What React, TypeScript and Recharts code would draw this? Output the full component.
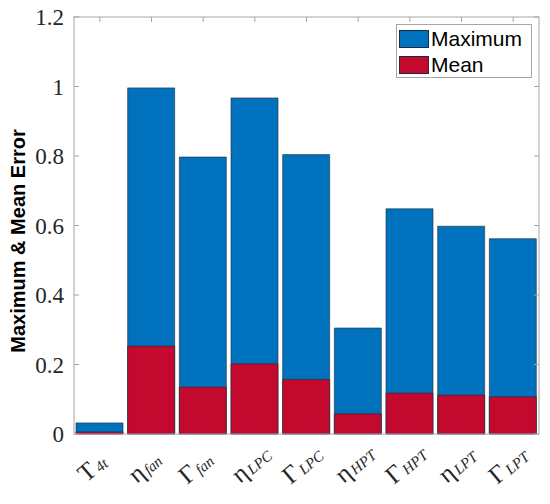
import React from 'react';
import { BarChart, Bar, XAxis, YAxis, LabelList } from 'recharts';

// ─── data ─────────────────────────────────────────────────────────────────────

const SYMBOLS = ['T', 'η', 'Γ', 'η', 'Γ', 'η', 'Γ', 'η', 'Γ'];
const SUBSCRIPTS = ['4t', 'fan', 'fan', 'LPC', 'LPC', 'HPT', 'HPT', 'LPT', 'LPT'];
const MAXIMUM = [0.032, 0.996, 0.797, 0.967, 0.804, 0.305, 0.648, 0.598, 0.562];
const MEAN = [0.006, 0.253, 0.135, 0.202, 0.157, 0.058, 0.118, 0.112, 0.107];
const Y_TICKS = [0, 0.2, 0.4, 0.6, 0.8, 1, 1.2];

const data = SYMBOLS.map((s, i) => ({ name: s + SUBSCRIPTS[i], maximum: MAXIMUM[i], mean: MEAN[i] }));

// ─── layout / style ───────────────────────────────────────────────────────────

const W = 550;
const H = 504;
const MARGIN = { top: 17, right: 11, bottom: 0, left: 0 };
const Y_AXIS_W = 74;
const X_AXIS_H = 70;
const PLOT_W = W - MARGIN.left - MARGIN.right - Y_AXIS_W;
const PLOT_H = H - MARGIN.top - MARGIN.bottom - X_AXIS_H;

const BLUE = '#0072BD';
const RED = '#C4092E';
const EDGE = '#1c2c3c';
const AXIS = '#a6a6a6';
const TICK_TEXT = '#262626';
const SERIF = 'Liberation Serif';
const SANS = 'Liberation Sans';

// ─── ticks ────────────────────────────────────────────────────────────────────

// left label + inward ticks on both sides
function LeftTick(props: any) {
  const { x, y, payload } = props;
  return (
    <g>
      <line x1={x} x2={x + 5} y1={y} y2={y} stroke={AXIS} />
      <line x1={x + PLOT_W} x2={x + PLOT_W - 5} y1={y} y2={y} stroke={AXIS} />
      <text x={x - 10} y={y + 8} textAnchor="end" fontSize={23} fontFamily={SERIF} fill={TICK_TEXT}>
        {String(payload.value)}
      </text>
    </g>
  );
}

// inward tick marks at bottom and top
function BottomTick(props: any) {
  const { x, y } = props;
  return (
    <g>
      <line x1={x} x2={x} y1={y} y2={y - 5} stroke="#555" strokeWidth={0.6} />
      <line x1={x} x2={x} y1={y - PLOT_H} y2={y - PLOT_H + 5} stroke={AXIS} />
    </g>
  );
}

// category label under each bar: symbol + italic subscript, rotated -40°
function CategoryLabel(props: any) {
  const { x, y, width, height, index } = props;
  const sub = SUBSCRIPTS[index];
  const cx = Number(x) + Number(width) / 2;
  const cy = Number(y) + Number(height) + 38;
  const shift = (13 - sub.length * 7.5 - 2) / 2;
  return (
    <g transform={`translate(${cx},${cy}) rotate(-40)`}>
      <text x={shift} y={0} textAnchor="end" fontSize={25} fontFamily={SERIF} fill={TICK_TEXT}>
        {SYMBOLS[index]}
      </text>
      <text x={shift + 2} y={1} textAnchor="start" fontSize={15} fontStyle="italic" fontFamily={SERIF} fill={TICK_TEXT}>
        {sub}
      </text>
    </g>
  );
}

// axis title + plot frame, hung on the y axis label
function YTitle(props: any) {
  const vb = props.viewBox || { x: 0, y: MARGIN.top, width: Y_AXIS_W, height: PLOT_H };
  const left = vb.x + vb.width;
  return (
    <g>
      <rect x={left} y={vb.y} width={PLOT_W} height={vb.height} fill="none" stroke={AXIS} />
      <text
        x={25}
        y={241}
        transform="rotate(-90, 25, 241)"
        textAnchor="middle"
        fontFamily={SANS}
        fontWeight={700}
        fontSize={20}
        fill="#000"
      >
        Maximum &amp; Mean Error
      </text>
    </g>
  );
}

// ─── legend ───────────────────────────────────────────────────────────────────

function LegendBox() {
  const row = (color: string, label: string) => (
    <div style={{ display: 'flex', alignItems: 'center', height: 26 }}>
      <div style={{ width: 30, height: 18, background: color, border: `0.5px solid ${EDGE}`, boxSizing: 'border-box' }} />
      <span style={{ marginLeft: 2, fontFamily: SANS, fontSize: 21, color: '#000', lineHeight: '26px' }}>{label}</span>
    </div>
  );
  return (
    <div
      style={{
        position: 'absolute',
        left: 396,
        top: 24,
        width: 136,
        height: 54,
        boxSizing: 'border-box',
        border: `1px solid ${AXIS}`,
        background: '#fff',
        padding: '1px 0 0 2px',
      }}
    >
      {row(BLUE, 'Maximum')}
      {row(RED, 'Mean')}
    </div>
  );
}

// ─── chart ────────────────────────────────────────────────────────────────────

export default function App() {
  return (
    <div style={{ position: 'absolute', left: 0, top: 0, width: W, height: H, background: '#fff' }}>
      <BarChart width={W} height={H} data={data} barSize={47} barGap={-47} margin={MARGIN}>
        <XAxis
          dataKey="name"
          height={X_AXIS_H}
          interval={0}
          tickSize={0}
          tickMargin={0}
          axisLine={false}
          tick={(p: any) => <BottomTick {...p} />}
        />
        <YAxis
          domain={[0, 1.2]}
          ticks={Y_TICKS}
          width={Y_AXIS_W}
          tickSize={0}
          tickMargin={0}
          axisLine={false}
          tick={(p: any) => <LeftTick {...p} />}
          label={(p: any) => <YTitle {...p} />}
        />
        <Bar dataKey="maximum" name="Maximum" fill={BLUE} stroke={EDGE} strokeWidth={0.6} isAnimationActive={false} />
        <Bar dataKey="mean" name="Mean" fill={RED} stroke={EDGE} strokeWidth={0.6} isAnimationActive={false}>
          <LabelList dataKey="name" content={(p: any) => <CategoryLabel {...p} />} />
        </Bar>
      </BarChart>
      <LegendBox />
    </div>
  );
}
